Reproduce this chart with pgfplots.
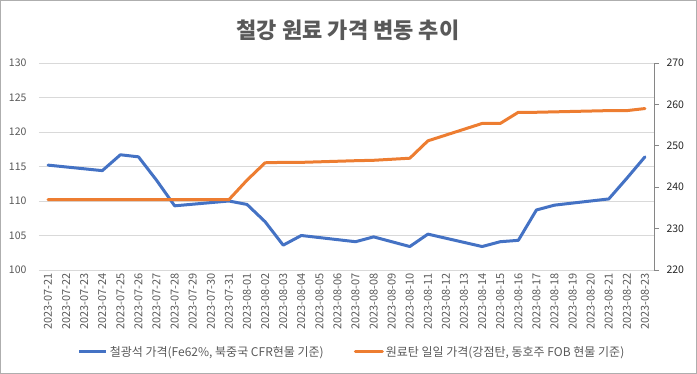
\documentclass[border=0pt]{standalone}
\usepackage{fontspec}
\setmainfont{Noto Sans CJK KR}
\usepackage{pgfplots}
\usepackage{pgfplotstable}
\pgfplotsset{compat=1.18}
\definecolor{sblue}{HTML}{4472C4}
\definecolor{sorange}{HTML}{ED7D31}
\definecolor{gridc}{HTML}{D9D9D9}
\definecolor{txt}{HTML}{595959}
\definecolor{axc}{HTML}{868686}

\pgfplotstableread{
x y
0 115.2
3 114.4
4 116.7
5 116.4
6 113.0
7 109.3
10 110.0
11 109.5
12 107.0
13 103.6
14 105.0
17 104.1
18 104.8
20 103.4
21 105.2
24 103.4
25 104.1
26 104.3
27 108.7
28 109.4
31 110.3
32 113.3
33 116.4
}\ironore

\pgfplotstableread{
x y
0 237.0
3 237.0
4 237.0
5 237.0
6 237.0
7 237.0
10 237.0
11 241.7
12 245.9
13 246.0
14 246.0
17 246.4
18 246.5
20 247.0
21 251.2
24 255.4
25 255.4
26 258.1
27 258.1
28 258.2
31 258.5
32 258.5
33 259.0
}\coal

\begin{document}
\begin{tikzpicture}
\draw[color=gridc!80!black, line width=0.75bp] (0.375bp,0.375bp) rectangle (696.625bp,373.625bp);
\node[font=\fontsize{22bp}{26bp}\selectfont\bfseries, text=txt] at (348bp,344bp) {철강 원료 가격 변동 추이};
\begin{axis}[
  at={(39bp,104bp)}, anchor=south west,
  width=615bp, height=207bp, scale only axis,
  xmin=-0.5, xmax=33.5, ymin=100, ymax=130,
  ytick={100,105,...,130},
  xtick={0,...,33},
  xticklabels={2023-07-21,2023-07-22,2023-07-23,2023-07-24,2023-07-25,2023-07-26,2023-07-27,2023-07-28,2023-07-29,2023-07-30,2023-07-31,2023-08-01,2023-08-02,2023-08-03,2023-08-04,2023-08-05,2023-08-06,2023-08-07,2023-08-08,2023-08-09,2023-08-10,2023-08-11,2023-08-12,2023-08-13,2023-08-14,2023-08-15,2023-08-16,2023-08-17,2023-08-18,2023-08-19,2023-08-20,2023-08-21,2023-08-22,2023-08-23},
  axis x line*=bottom, axis y line*=left,
  x axis line style={draw=gridc, line width=0.75bp, -},
  y axis line style={draw=none},
  xtick style={draw=none}, ytick style={draw=none},
  ymajorgrids, grid style={gridc, line width=0.75bp},
  /pgf/number format/assume math mode=true,
  yticklabel style={font=\fontsize{10.5bp}{12bp}\selectfont, text=txt, xshift=-9bp},
  xticklabel style={font=\fontsize{11bp}{12bp}\selectfont, text=txt, rotate=90, anchor=east},
  clip=false,
]
\addplot[sblue, line width=3bp, line join=round, line cap=round] table[x=x,y=y] {\ironore};
\end{axis}
\begin{axis}[
  at={(39bp,104bp)}, anchor=south west,
  width=615bp, height=207bp, scale only axis,
  xmin=-0.5, xmax=33.5, ymin=220, ymax=270,
  ytick={220,230,...,270},
  axis y line*=right, axis x line=none,
  y axis line style={draw=axc, line width=0.75bp, -},
  ytick style={draw=axc, line width=0.75bp},
  tick align=outside, major tick length=5bp,
  /pgf/number format/assume math mode=true,
  yticklabel style={font=\fontsize{10.5bp}{12bp}\selectfont, text=black!85, xshift=4bp},
  legend style={at={(0.509,-0.396)}, anchor=center, draw=none, fill=none,
    font=\fontsize{12bp}{14bp}\selectfont, text=txt,
    /tikz/every even column/.append style={column sep=28bp}},
  legend columns=2,
  legend image code/.code={\draw[#1] (0bp,0bp) -- (27bp,0bp);},
  clip=false,
]
\addlegendimage{sblue, line width=3bp}
\addlegendentry{철광석 가격(Fe62\%, 북중국 CFR현물 기준)}
\addplot[sorange, line width=3bp, line join=round, line cap=round] table[x=x,y=y] {\coal};
\addlegendentry{원료탄 일일 가격(강점탄, 동호주 FOB 현물 기준)}
\end{axis}
\end{tikzpicture}
\end{document}
